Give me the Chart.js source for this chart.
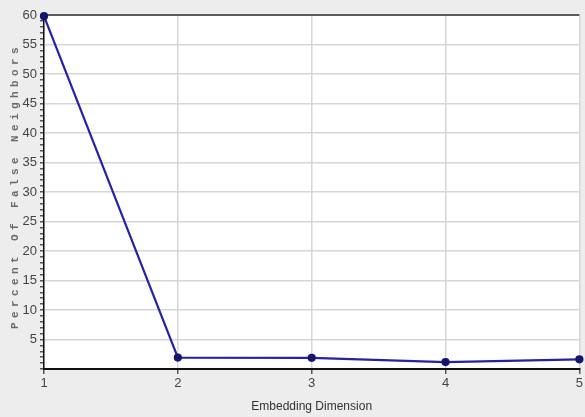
<!DOCTYPE html>
<html>
<head>
<meta charset="utf-8">
<script src="https://cdn.jsdelivr.net/npm/chart.js@4/dist/chart.umd.min.js"></script>
<style>
  html, body { margin: 0; padding: 0; background: #ededed; }
  #wrap { width: 585px; height: 417px; }
</style>
</head>
<body>
<div id="wrap"><canvas id="fnnChart" width="585" height="417"></canvas></div>
<script>
const dimensions = ['1', '2', '3', '4', '5'];
const falseNeighbors = [59.8, 1.93, 1.9, 1.18, 1.64];
const yTitle = 'Percent Of False Neighbors';
const xTitle = 'Embedding Dimension';

const sans = '"Liberation Sans Narrow", "Liberation Sans", Arial, sans-serif';

// white plot area on the grey panel
const plotBackground = {
  id: 'plotBackground',
  beforeDraw(chart) {
    const { ctx, chartArea: a } = chart;
    ctx.save();
    ctx.fillStyle = '#ffffff';
    ctx.fillRect(a.left, a.top, a.right - a.left, a.bottom - a.top);
    ctx.restore();
  }
};

// spaced-out monospace title along the y axis
const spacedYTitle = {
  id: 'spacedYTitle',
  afterDraw(chart) {
    const ctx = chart.ctx;
    ctx.save();
    ctx.translate(15, 186);
    ctx.rotate(-Math.PI / 2);
    ctx.font = 'bold 11px "Liberation Mono", "DejaVu Sans Mono", monospace';
    ctx.letterSpacing = '4.4px';
    ctx.fillStyle = '#6a6a6a';
    ctx.textAlign = 'center';
    ctx.textBaseline = 'middle';
    ctx.fillText(yTitle, 0, 0);
    ctx.restore();
  }
};

const ctx = document.getElementById('fnnChart').getContext('2d');
new Chart(ctx, {
  type: 'line',
  data: {
    labels: dimensions,
    datasets: [{
      data: falseNeighbors,
      borderColor: '#2323a6',
      borderWidth: 2.2,
      pointRadius: 3,
      pointBackgroundColor: '#15156e',
      pointBorderColor: '#15156e',
      clip: false,
      tension: 0
    }]
  },
  options: {
    responsive: false,
    animation: false,
    layout: { autoPadding: false, padding: { top: 15, right: 0, left: 0, bottom: 0 } },
    plugins: {
      legend: { display: false },
      tooltip: { enabled: false }
    },
    scales: {
      x: {
        offset: false,
        afterFit(scale) {
          scale.height = 48;
        },
        border: { color: '#111111', width: 2 },
        grid: {
          color: '#d6d6d6',
          lineWidth: 1.5,
          tickColor: '#555555',
          tickLength: 5
        },
        ticks: {
          padding: 2,
          color: '#444444',
          font: { family: sans, size: 13 }
        },
        title: {
          display: true,
          text: xTitle,
          color: '#333333',
          font: { family: sans, size: 12 },
          padding: { top: 0, bottom: 3 }
        }
      },
      y: {
        min: 0,
        max: 60,
        afterFit(scale) { scale.width = 44; },
        border: { color: '#111111', width: 1.5 },
        grid: {
          color: c => c.tick.value === 60 ? '#5a5a5a'
            : (c.tick.value % 5 === 0 && c.tick.value > 0 ? '#d6d6d6' : 'rgba(0,0,0,0)'),
          lineWidth: c => c.tick.value === 60 ? 2 : 1.5,
          tickColor: '#555555',
          tickLength: 4
        },
        ticks: {
          stepSize: 1,
          autoSkip: false,
          padding: 3,
          color: '#444444',
          font: { family: sans, size: 13 },
          callback: v => (v % 5 === 0 && v > 0) ? v : ''
        }
      }
    }
  },
  plugins: [plotBackground, spacedYTitle]
});
</script>
</body>
</html>
